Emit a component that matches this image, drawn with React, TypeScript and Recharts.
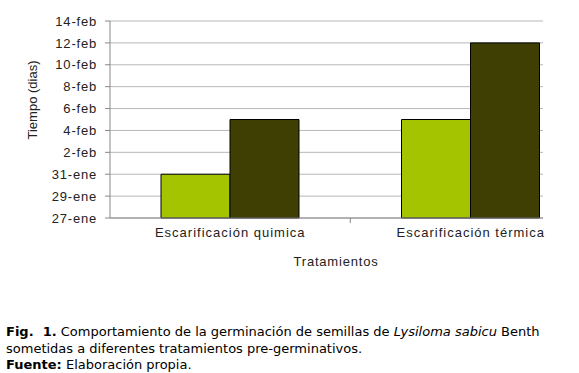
import React from "react";
import { BarChart, Bar, XAxis, YAxis, CartesianGrid, Label } from "recharts";

// days counted from 27-ene
const categories = ["Escarificación quimica", "Escarificación térmica"];
const serieClara = [4, 9];
const serieOscura = [9, 16];
const yTickLabels = [
    "27-ene", "29-ene", "31-ene", "2-feb", "4-feb",
    "6-feb", "8-feb", "10-feb", "12-feb", "14-feb",
];
const yTicks = yTickLabels.map((_, i) => i * 2);

const data = categories.map((name, i) => ({
    name,
    clara: serieClara[i],
    oscura: serieOscura[i],
}));

const FONT = "'Liberation Sans', Arial, sans-serif";
const HALF_BAND = 120;

const XTick = (props: any) => {
    const { x, y, payload } = props;
    return (
        <g>
            <line x1={x + HALF_BAND} x2={x + HALF_BAND} y1={y - 10} y2={y - 5} stroke="#888" />
            <text
                x={x}
                y={y}
                dy="0.71em"
                textAnchor="middle"
                fill="#222"
                fontSize={13}
                letterSpacing={1}
                fontFamily={FONT}
            >
                {payload.value}
            </text>
        </g>
    );
};

const App: React.FC = () => {
    return (
        <div style={{ position: "absolute", left: 0, top: 0, width: 579, height: 373, background: "#fff", overflow: "hidden" }}>
            <BarChart
                width={579}
                height={300}
                data={data}
                barGap={0}
                margin={{ top: 21, right: 36, left: 50, bottom: 52 }}
            >
                <CartesianGrid vertical={false} stroke="#b8b8b8" />
                <XAxis
                    dataKey="name"
                    tick={<XTick />}
                    tickLine={false}
                    tickSize={0}
                    tickMargin={10}
                    height={30}
                    axisLine={{ stroke: "#888" }}
                    padding={{ left: 0, right: -48 }}
                    interval={0}
                >
                    <Label
                        content={() => (
                            <text x={336} y={266} textAnchor="middle" fill="#222" fontSize={13}
                                letterSpacing={0.8} fontFamily={FONT}>
                                Tratamientos
                            </text>
                        )}
                    />
                </XAxis>
                <YAxis
                    domain={[0, 18]}
                    ticks={yTicks}
                    interval={0}
                    tickFormatter={(v: number) => yTickLabels[v / 2]}
                    width={60}
                    tickSize={5}
                    tickMargin={8}
                    tickLine={{ stroke: "#888" }}
                    axisLine={{ stroke: "#888" }}
                    tick={{ fill: "#222", fontSize: 13, fontFamily: FONT, letterSpacing: 0.8 }}
                >
                    <Label
                        content={() => (
                            <text x={37} y={100} textAnchor="middle" fill="#222" fontSize={13}
                                fontFamily={FONT} transform="rotate(-90 37 100)">
                                Tiempo (dias)
                            </text>
                        )}
                    />
                </YAxis>
                <Bar dataKey="clara" fill="#a4c400" stroke="#000" strokeWidth={1} barSize={69} isAnimationActive={false} />
                <Bar dataKey="oscura" fill="#3f3f03" stroke="#000" strokeWidth={1} barSize={69} isAnimationActive={false} />
            </BarChart>
            <div
                style={{
                    position: "absolute",
                    left: 6,
                    top: 324,
                    fontFamily: "'DejaVu Sans', Verdana, sans-serif",
                    fontSize: 13,
                    lineHeight: "16.5px",
                    color: "#000",
                    whiteSpace: "pre",
                }}
            >
                <b>Fig.  1.</b> Comportamiento de la germinación de semillas de <i>Lysiloma sabicu</i> Benth
                {"\n"}sometidas a diferentes tratamientos pre-germinativos.
                {"\n"}<b>Fuente:</b> Elaboración propia.
            </div>
        </div>
    );
};

export default App;
